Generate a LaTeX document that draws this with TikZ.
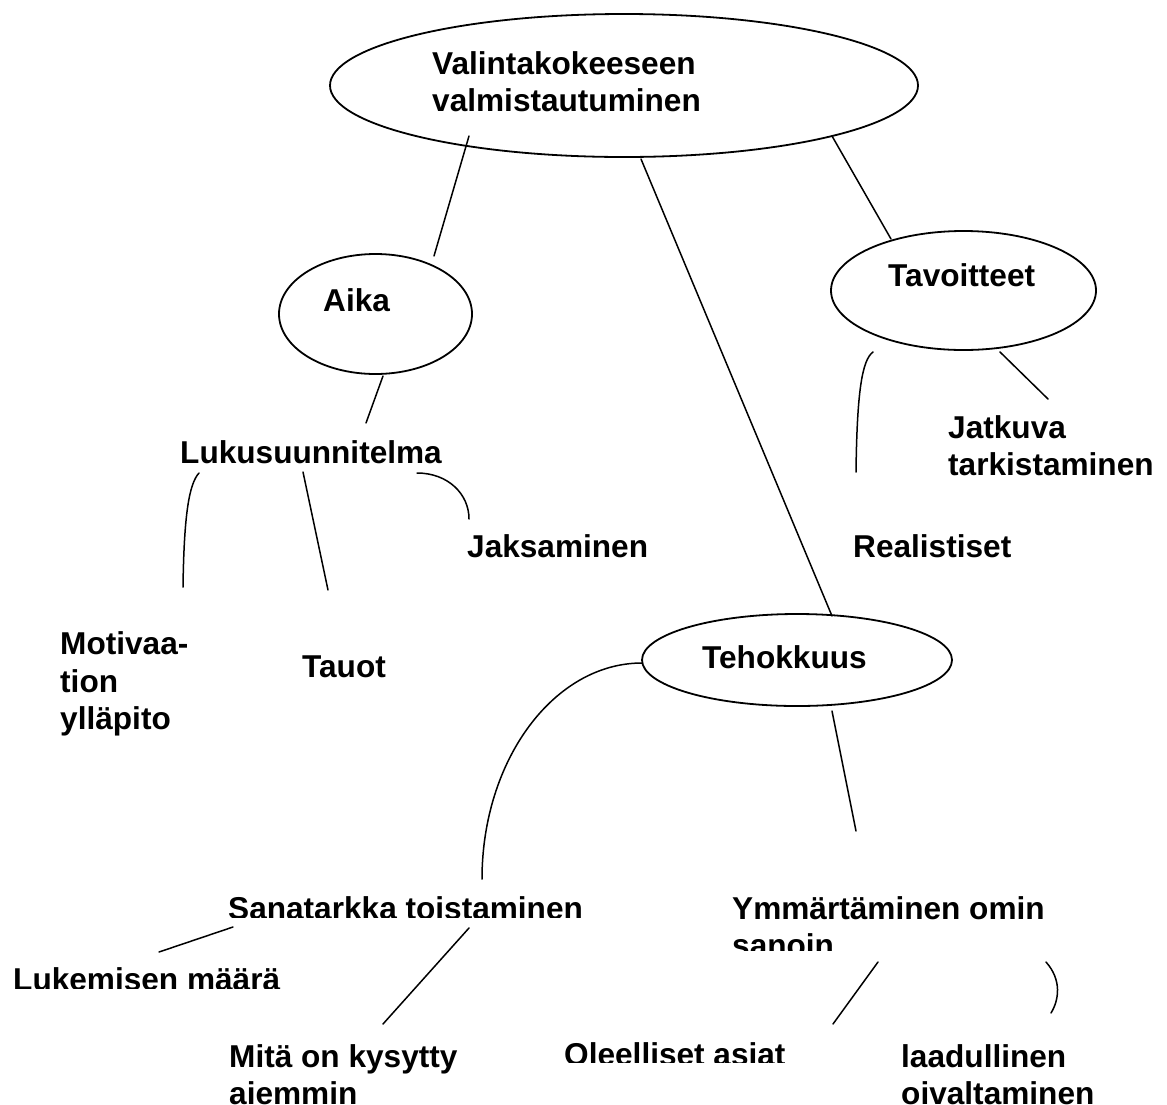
\documentclass[tikz,border=0pt]{standalone}
\usepackage{fontspec}
\setmainfont{Liberation Sans}
\usetikzlibrary{shapes.geometric}
\newcommand\lblfont{\bfseries\fontsize{31.6}{37}\selectfont}
\tikzset{
  ell/.style={draw, ellipse, line width=1.8pt, inner sep=0pt},
  lbl/.style={anchor=base west, inner sep=0pt, font=\lblfont},
  conn/.style={line width=1.5pt, line cap=round}
}
\begin{document}
\begin{tikzpicture}[x=1pt,y=-1pt]
\useasboundingbox (0,0) rectangle (1167,1104);
% ellipses
\node[ell, minimum width=588pt, minimum height=143pt] (eTop) at (624,85.5) {};
\node[ell, minimum width=193pt, minimum height=120pt] (eAika) at (375.5,314) {};
\node[ell, minimum width=265pt, minimum height=119pt] (eTav) at (963.5,290.5) {};
\node[ell, minimum width=310pt, minimum height=92pt] (eTeh) at (797,660) {};
% labels
\node[lbl] (tTop1) at (432,74) {Valintakokeeseen};
\node[lbl] (tTop2) at (432,111) {valmistautuminen};
\node[lbl] (tAika) at (323,311) {Aika};
\node[lbl] (tTav) at (888,286) {Tavoitteet};
\node[lbl] (tTeh) at (702,668) {Tehokkuus};
\node[lbl] (tLuku) at (180,463) {Lukusuunnitelma};
\node[lbl] (tJak) at (467,557) {Jaksaminen};
\node[lbl] (tReal) at (853,557) {Realistiset};
\node[lbl] (tJat1) at (948,438) {Jatkuva};
\node[lbl] (tJat2) at (948,475) {tarkistaminen};
\node[lbl] (tMot1) at (60,654) {Motivaa-};
\node[lbl] (tMot2) at (60,692) {tion};
\node[lbl] (tMot3) at (60,729) {ylläpito};
\node[lbl] (tTau) at (302,677) {Tauot};
\begin{scope}
\clip (0,0) rectangle (1167,917);
\node[lbl] (tSana) at (228,919) {Sanatarkka toistaminen};
\end{scope}
\node[lbl] (tYmm1) at (732,919) {Ymmärtäminen omin};
\begin{scope}
\clip (0,0) rectangle (1167,950);
\node[lbl] (tYmm2) at (732,956) {sanoin};
\end{scope}
\begin{scope}
\clip (0,0) rectangle (1167,988);
\node[lbl] (tLuk) at (13,990) {Lukemisen määrä};
\end{scope}
\node[lbl] (tMit1) at (229,1067) {Mitä on kysytty};
\node[lbl] (tMit2) at (229,1104) {aiemmin};
\begin{scope}
\clip (0,0) rectangle (1167,1062);
\node[lbl] (tOle) at (564,1065) {Oleelliset asiat};
\end{scope}
\node[lbl] (tLaa1) at (901,1067) {laadullinen};
\node[lbl] (tLaa2) at (901,1104) {oivaltaminen};
% connector end points
\coordinate (a1) at (469,136); \coordinate (a2) at (434,256);
\coordinate (m1) at (641,159); \coordinate (m2) at (832,616);
\coordinate (r1) at (832,136); \coordinate (r2) at (891,239);
\coordinate (l1) at (383,376); \coordinate (l2) at (366,423);
\coordinate (mo1) at (199,473); \coordinate (mo2) at (183,587);
\coordinate (ta1) at (303,472); \coordinate (ta2) at (328,590);
\coordinate (ja1) at (417,473); \coordinate (ja2) at (469,519);
\coordinate (re1) at (873,352); \coordinate (re2) at (856,472);
\coordinate (jt1) at (1000,352); \coordinate (jt2) at (1048,399);
\coordinate (te1) at (642,663); \coordinate (te2) at (482,879);
\coordinate (ym1) at (832,711); \coordinate (ym2) at (856,831);
\coordinate (lu1) at (233,927); \coordinate (lu2) at (159,952);
\coordinate (mi1) at (469,928); \coordinate (mi2) at (383,1024);
\coordinate (ol1) at (878,962); \coordinate (ol2) at (833,1024);
\coordinate (la1) at (1046,962); \coordinate (la2) at (1051,1013);
% connectors
\draw[conn] (a1) -- (a2);
\draw[conn] (m1) -- (m2);
\draw[conn] (r1) -- (r2);
\draw[conn] (l1) -- (l2);
\draw[conn] (mo1) .. controls (189,484) and (184,515) .. (mo2);
\draw[conn] (ta1) -- (ta2);
\draw[conn] (ja1) .. controls (448,473) and (469,494) .. (ja2);
\draw[conn] (re1) .. controls (862,360) and (857,392) .. (re2);
\draw[conn] (jt1) -- (jt2);
\draw[conn] (te1) .. controls (554,663) and (482,760) .. (te2);
\draw[conn] (ym1) -- (ym2);
\draw[conn] (lu1) -- (lu2);
\draw[conn] (mi1) -- (mi2);
\draw[conn] (ol1) -- (ol2);
\draw[conn] (la1) .. controls (1062,980) and (1059,1000) .. (la2);
\end{tikzpicture}
\end{document}
